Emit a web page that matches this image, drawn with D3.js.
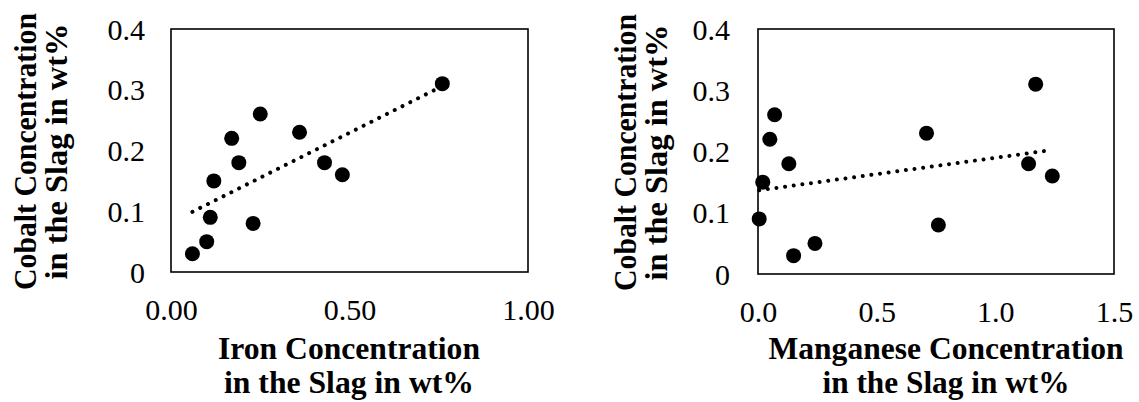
<!DOCTYPE html>
<html>
<head>
<meta charset="utf-8">
<script src="https://cdn.jsdelivr.net/npm/d3@7"></script>
<style>
html,body{margin:0;padding:0;background:#fff;}
svg{display:block;}
</style>
</head>
<body>
<svg id="chart" width="1139" height="402"></svg>
<script>
// ---- data ----
const cobalt    = [0.03, 0.05, 0.09, 0.15, 0.22, 0.18, 0.08, 0.26, 0.23, 0.18, 0.16, 0.31];
const iron      = [0.06, 0.10, 0.11, 0.12, 0.17, 0.19, 0.23, 0.25, 0.36, 0.43, 0.48, 0.76];
const manganese = [0.15, 0.24, 0.005, 0.02, 0.05, 0.13, 0.76, 0.07, 0.71, 1.14, 1.24, 1.17];
const yTicks      = [0, 0.1, 0.2, 0.3, 0.4];
const yTickLabels = ["0", "0.1", "0.2", "0.3", "0.4"];
const ironTicks      = [0, 0.5, 1.0];
const ironTickLabels = ["0.00", "0.50", "1.00"];
const mnTicks        = [0, 0.5, 1.0, 1.5];
const mnTickLabels   = ["0.0", "0.5", "1.0", "1.5"];
const yTitle     = ["Cobalt Concentration", "in the Slag in wt%"];
const ironTitle  = ["Iron Concentration", "in the Slag in wt%"];
const mnTitle    = ["Manganese Concentration", "in the Slag in wt%"];

const FONT = "'Liberation Serif', 'Times New Roman', serif";
const svg = d3.select("#chart");

function linreg(xs, ys) {
  const n = xs.length;
  const mx = d3.mean(xs), my = d3.mean(ys);
  let sxy = 0, sxx = 0;
  for (let i = 0; i < n; i++) { sxy += (xs[i]-mx)*(ys[i]-my); sxx += (xs[i]-mx)*(xs[i]-mx); }
  const b = sxy / sxx;
  return { slope: b, intercept: my - b * mx };
}

function panel(cfg) {
  const x = d3.scaleLinear().domain(cfg.xDomain).range([cfg.x0, cfg.x1]);
  const y = d3.scaleLinear().domain([0, 0.4]).range([cfg.y1, cfg.y0]);
  const g = svg.append("g");

  // y axis labels
  const ya = g.append("g").attr("transform", `translate(${cfg.x0},0)`)
    .call(d3.axisLeft(y).tickValues(yTicks).tickFormat((d,i) => yTickLabels[i]).tickSize(0).tickPadding(cfg.yPad));
  ya.select(".domain").remove();
  ya.selectAll("text").style("font-family", FONT).style("font-size", "30px").style("fill", "#000").attr("dy", "0.34em");

  // x axis labels
  const xa = g.append("g").attr("transform", `translate(0,${cfg.y1})`)
    .call(d3.axisBottom(x).tickValues(cfg.xTicks).tickFormat((d,i) => cfg.xTickLabels[i]).tickSize(0));
  xa.select(".domain").remove();
  xa.selectAll("text").style("font-family", FONT).style("font-size", "30px").style("fill", "#000").attr("y", cfg.xLabBase).attr("dy", 0);

  // frame
  g.append("rect").attr("x", cfg.x0).attr("y", cfg.y0)
    .attr("width", cfg.x1 - cfg.x0).attr("height", cfg.y1 - cfg.y0)
    .attr("fill", "none").attr("stroke", "#000").attr("stroke-width", 1.6);

  // trendline (linear least squares, as Excel draws it)
  const r = linreg(cfg.xs, cobalt);
  const xmin = d3.min(cfg.xs), xmax = d3.max(cfg.xs);
  g.append("line")
    .attr("x1", x(xmin)).attr("y1", y(r.intercept + r.slope * xmin))
    .attr("x2", x(xmax)).attr("y2", y(r.intercept + r.slope * xmax))
    .attr("stroke", "#000").attr("stroke-width", 4)
    .attr("stroke-linecap", "round").attr("stroke-dasharray", "0.01 8.7");

  // points
  g.selectAll("circle.pt").data(cfg.xs.map((v, i) => [v, cobalt[i]]))
    .enter().append("circle").attr("class", "pt")
    .attr("cx", d => x(d[0])).attr("cy", d => y(d[1])).attr("r", 7.5).attr("fill", "#000");

  // y title
  yTitle.forEach((t, i) => {
    g.append("text").attr("transform", `translate(${cfg.yTitleX[i]},${(cfg.y0 + cfg.y1) / 2 + 1}) rotate(-90)`)
      .attr("text-anchor", "middle").style("font-family", FONT).style("font-size", "32.5px")
      .attr("textLength", cfg.yTitleLen[i]).attr("lengthAdjust", "spacingAndGlyphs")
      .style("font-weight", "bold").style("fill", "#000").text(t);
  });
  // x title
  cfg.xTitle.forEach((t, i) => {
    g.append("text").attr("x", cfg.xTitleX).attr("y", [359, 393][i])
      .attr("text-anchor", "middle").style("font-family", FONT).style("font-size", "32.5px")
      .attr("textLength", cfg.xTitleLen[i]).attr("lengthAdjust", "spacingAndGlyphs")
      .style("font-weight", "bold").style("fill", "#000").text(t);
  });
}

panel({ x0: 171, x1: 528, y0: 29, y1: 272, xDomain: [0, 1], xs: iron,
        xTicks: ironTicks, xTickLabels: ironTickLabels, yPad: 26, xLabBase: 48,
        yTitleX: [36, 67], yTitleLen: [277, 256],
        xTitle: ironTitle, xTitleX: 349, xTitleLen: [262, 250] });
panel({ x0: 758, x1: 1114, y0: 29, y1: 274, xDomain: [0, 1.5], xs: manganese,
        xTicks: mnTicks, xTickLabels: mnTickLabels, yPad: 28, xLabBase: 48,
        yTitleX: [636, 667], yTitleLen: [277, 256],
        xTitle: mnTitle, xTitleX: 946, xTitleLen: [355, 247] });
</script>
</body>
</html>
